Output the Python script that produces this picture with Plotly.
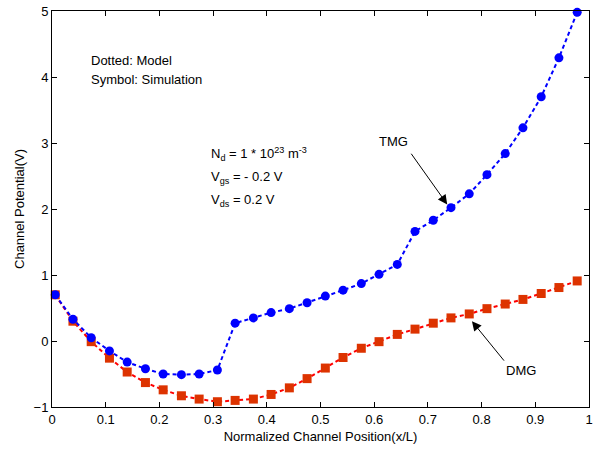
import plotly.graph_objects as go

x_pos = [0.006, 0.039, 0.073, 0.107, 0.140, 0.174, 0.207, 0.241, 0.274, 0.308,
         0.341, 0.375, 0.408, 0.442, 0.475, 0.509, 0.542, 0.576, 0.609, 0.643,
         0.676, 0.710, 0.743, 0.777, 0.810, 0.844, 0.877, 0.911, 0.944, 0.978]
tmg = [0.70, 0.33, 0.05, -0.15, -0.32, -0.42, -0.50, -0.51, -0.50, -0.44,
       0.27, 0.35, 0.43, 0.49, 0.58, 0.68, 0.77, 0.87, 1.01, 1.16,
       1.66, 1.83, 2.02, 2.23, 2.52, 2.84, 3.23, 3.70, 4.29, 4.98]
dmg = [0.70, 0.30, -0.01, -0.26, -0.47, -0.63, -0.74, -0.83, -0.88, -0.92,
       -0.90, -0.88, -0.81, -0.71, -0.57, -0.41, -0.25, -0.11, -0.01, 0.10,
       0.18, 0.27, 0.35, 0.41, 0.49, 0.56, 0.63, 0.72, 0.81, 0.91]
x_ticks = [0, 0.1, 0.2, 0.3, 0.4, 0.5, 0.6, 0.7, 0.8, 0.9, 1]
x_tick_text = ["0", "0.1", "0.2", "0.3", "0.4", "0.5", "0.6", "0.7", "0.8", "0.9", "1"]
y_ticks = [-1, 0, 1, 2, 3, 4, 5]

FONT = "Liberation Sans, Arial, sans-serif"
FS = 13

fig = go.Figure()
# DMG: model (dashed) + simulation (squares)
fig.add_trace(go.Scatter(x=x_pos, y=dmg, mode="lines",
                         line=dict(color="#ff0000", width=2, dash="4px,3px"),
                         showlegend=False, cliponaxis=False))
fig.add_trace(go.Scatter(x=x_pos, y=dmg, mode="markers",
                         marker=dict(symbol="square", size=9, color="#dd3300"),
                         showlegend=False, cliponaxis=False))
# TMG
fig.add_trace(go.Scatter(x=x_pos, y=tmg, mode="lines",
                         line=dict(color="#0000ff", width=2, dash="4px,3px"),
                         showlegend=False, cliponaxis=False))
fig.add_trace(go.Scatter(x=x_pos, y=tmg, mode="markers",
                         marker=dict(symbol="circle", size=9, color="#0000ff"),
                         showlegend=False, cliponaxis=False))

axis_common = dict(showgrid=False, zeroline=False, showline=True, linecolor="black",
                   linewidth=1, mirror="ticks", ticks="inside", ticklen=5,
                   tickcolor="black", automargin=False,
                   tickfont=dict(family=FONT, size=FS, color="black"))

fig.update_xaxes(range=[0, 1], tickvals=x_ticks, ticktext=x_tick_text,
                 title=dict(text="Normalized Channel Position(x/L)",
                            font=dict(family=FONT, size=FS, color="black"), standoff=6),
                 **axis_common)
fig.update_yaxes(range=[-1, 5], tickvals=y_ticks,
                 title=dict(text="Channel Potential(V)",
                            font=dict(family=FONT, size=FS, color="black"), standoff=6),
                 **axis_common)

ann_font = dict(family=FONT, size=FS, color="black")
annotations = [
    dict(x=0.068, y=4.25, text="Dotted: Model", showarrow=False, xanchor="left",
         yanchor="middle", font=ann_font),
    dict(x=0.068, y=3.96, text="Symbol: Simulation", showarrow=False, xanchor="left",
         yanchor="middle", font=ann_font),
    dict(x=0.2926, y=2.83, text="N<sub>d</sub> = 1 * 10<sup>23</sup> m<sup>-3</sup>",
         showarrow=False, xanchor="left", yanchor="middle", font=ann_font),
    dict(x=0.2926, y=2.48, text="V<sub>gs</sub> = - 0.2 V",
         showarrow=False, xanchor="left", yanchor="middle", font=ann_font),
    dict(x=0.2926, y=2.13, text="V<sub>ds</sub> = 0.2 V",
         showarrow=False, xanchor="left", yanchor="middle", font=ann_font),
    dict(x=0.635, y=3.02, text="TMG", showarrow=False, font=ann_font),
    dict(x=0.873, y=-0.45, text="DMG", showarrow=False, font=ann_font),
    dict(x=0.736, y=2.07, ax=0.667, ay=2.86, axref="x", ayref="y", text="",
         showarrow=True, arrowhead=2, arrowsize=1.9, arrowwidth=1, arrowcolor="black"),
    dict(x=0.782, y=0.30, ax=0.844, ay=-0.32, axref="x", ayref="y", text="",
         showarrow=True, arrowhead=2, arrowsize=1.9, arrowwidth=1, arrowcolor="black"),
]

fig.update_layout(width=594, height=452, margin=dict(l=52, r=5, t=11, b=45),
                  plot_bgcolor="white", paper_bgcolor="white",
                  annotations=annotations, font=dict(family=FONT, size=FS))

fig.write_html("out.html", config={"displayModeBar": False},
               post_script="document.body.style.margin='0';document.body.style.overflow='hidden';")
